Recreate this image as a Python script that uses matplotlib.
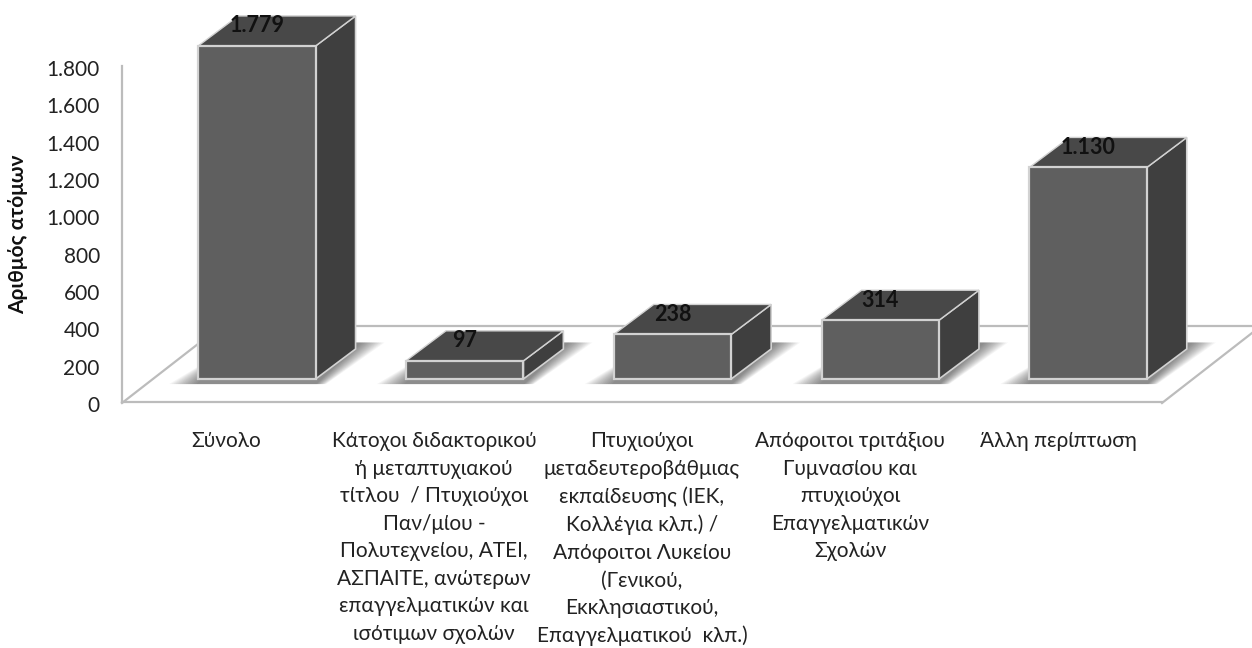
import matplotlib
matplotlib.use("Agg")
import matplotlib.pyplot as plt
from matplotlib.patches import Polygon
from matplotlib.lines import Line2D
from matplotlib.transforms import ScaledTranslation

plt.rcParams['font.family'] = ['Lato', 'Open Sans', 'DejaVu Sans']

categories = [
    "Σύνολο",
    "Κάτοχοι διδακτορικού\nή μεταπτυχιακού\nτίτλου  / Πτυχιούχοι\nΠαν/μίου -\nΠολυτεχνείου, ΑΤΕΙ,\nΑΣΠΑΙΤΕ, ανώτερων\nεπαγγελματικών και\nισότιμων σχολών",
    "Πτυχιούχοι\nμεταδευτεροβάθμιας\nεκπαίδευσης (ΙΕΚ,\nΚολλέγια κλπ.) /\nΑπόφοιτοι Λυκείου\n(Γενικού,\nΕκκλησιαστικού,\nΕπαγγελματικού  κλπ.)",
    "Απόφοιτοι τριτάξιου\nΓυμνασίου και\nπτυχιούχοι\nΕπαγγελματικών\nΣχολών",
    "Άλλη περίπτωση",
]
values = [1779, 97, 238, 314, 1130]
value_labels = ["1.779", "97", "238", "314", "1.130"]
y_ticks = [0, 200, 400, 600, 800, 1000, 1200, 1400, 1600, 1800]
y_tick_labels = ["0", "200", "400", "600", "800", "1.000", "1.200", "1.400", "1.600", "1.800"]
y_title = "Αριθμός ατόμων"

W, H = 1252, 648
fig = plt.figure(figsize=(W / 100, H / 100), dpi=100, facecolor="white")

def rect(l, t, r, b):
    return [l / W, 1 - b / H, (r - l) / W, (b - t) / H]

FLOOR = "#bcbcbc"
TEXT = "#222222"

# floor outline, behind everything
for xs, ys in (((122, 225), (403, 323)), ((1162, 1252), (403, 333)), ((225, 1252), (326, 326))):
    fig.add_artist(Line2D([x / W for x in xs], [1 - y / H for y in ys], color=FLOOR, lw=1.6, zorder=0))

# value axis and category labels
ax = fig.add_axes(rect(122, 66, 1162, 402))
ax.patch.set_alpha(0)
ax.set_xlim(-0.5, 4.5)
ax.set_ylim(0, 1800)
ax.set_xticks(range(len(categories)))
ax.set_xticklabels(categories, fontsize=15, color=TEXT, linespacing=1.47, va="top")
ax.set_yticks(y_ticks)
ax.set_yticklabels(y_tick_labels, fontsize=15, color=TEXT)
ax.tick_params(axis="x", length=0, pad=21)
ax.tick_params(axis="y", length=0, pad=16)
shift = ScaledTranslation(0, -1.5 / 72, fig.dpi_scale_trans)
for lab in ax.get_yticklabels():
    lab.set_transform(lab.get_transform() + shift)
for s in ("top", "right"):
    ax.spines[s].set_visible(False)
for s in ("left", "bottom"):
    ax.spines[s].set_color(FLOOR)
    ax.spines[s].set_linewidth(1.6)
fig.text(18 / W, 1 - 234 / H, y_title, rotation=90, ha="center", va="center",
         fontsize=15, fontweight="bold", color="#111111")

# bars: separate overlaid axes, shifted for the 3-D projection
bx = fig.add_axes(rect(153, 42, 1192, 379))
bx.set_xlim(-0.5, 4.5)
bx.set_ylim(0, 1800)
bx.axis("off")
bx.patch.set_alpha(0)

BAR_W = 0.565
DX = 40 / 208
DY = 30 / (337 / 1800)
EDGE = "#d2d2d2"

for i, v in enumerate(values):
    l, r = i - BAR_W / 2, i + BAR_W / 2
    # soft shadow on the floor
    low, high = -27, 195
    n = 14
    for k in range(n):
        f = k / n
        pts = [(l - 0.14 + 0.14 * f, low), (r + 0.05 - 0.05 * f, low),
               (r + DX + 0.02 + 0.12 * (1 - f), high), (l + DX, high)]
        bx.add_patch(Polygon(pts, closed=True, facecolor="black", edgecolor="none",
                             alpha=0.04, zorder=1, clip_on=False))
    # side, top, front faces
    bx.add_patch(Polygon([(r, 0), (r + DX, DY), (r + DX, v + DY), (r, v)], closed=True,
                         facecolor="#3f3f3f", edgecolor=EDGE, lw=1.2, zorder=2, clip_on=False))
    bx.add_patch(Polygon([(l, v), (l + DX, v + DY), (r + DX, v + DY), (r, v)], closed=True,
                         facecolor="#484848", edgecolor=EDGE, lw=1.0, zorder=3, clip_on=False))
    bx.bar(i, v, width=BAR_W, color="#5f5f5f", edgecolor=EDGE, linewidth=1.6, zorder=4, clip_on=False)
    bx.annotate(value_labels[i], (i, v), xytext=(0, 14.5), textcoords="offset points",
                ha="center", va="center", fontsize=15.5, fontweight="bold", color="#111111",
                zorder=6, annotation_clip=False)

fig.savefig("out.png", dpi=100)
